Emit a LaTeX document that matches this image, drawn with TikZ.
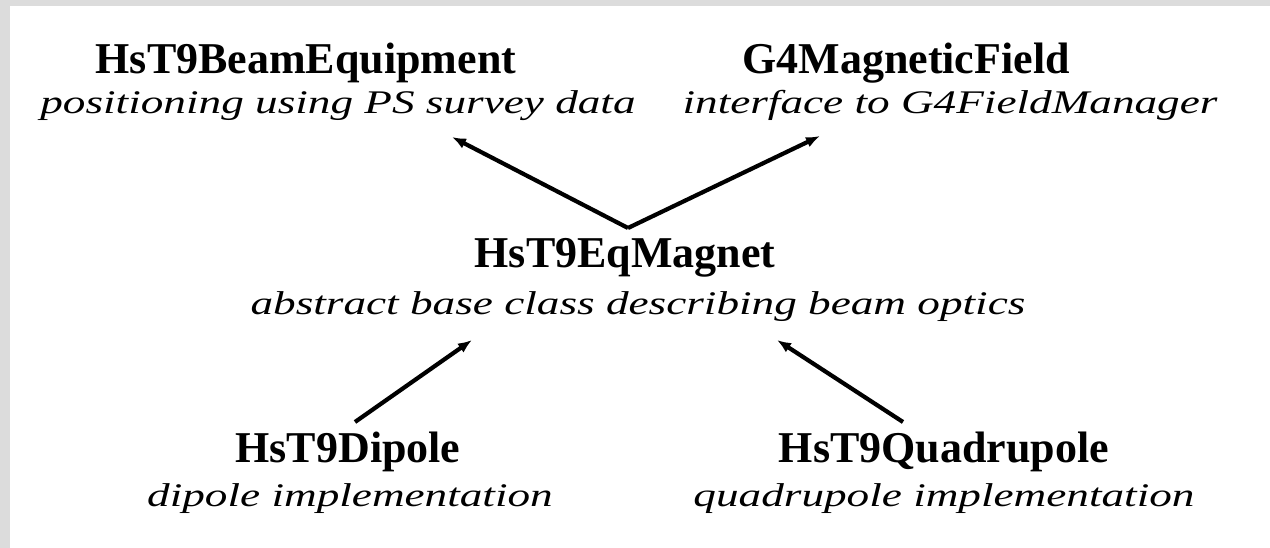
\documentclass[tikz,border=0pt]{standalone}
\usepackage{fontspec}
\setmainfont{Liberation Serif}
\usetikzlibrary{arrows.meta}
\definecolor{bordgray}{HTML}{DCDCDC}
\newcommand\subtxt[1]{\scalebox{1.37}[1]{\fontsize{33}{33}\selectfont\itshape #1}}
\begin{document}
\begin{tikzpicture}[x=1pt,y=-1pt,
  title/.style={anchor=base,inner sep=0pt,font=\fontsize{44}{44}\selectfont\bfseries},
  sub/.style={anchor=base,inner sep=0pt},
  arr/.style={line width=4.2pt,-{Latex[length=14pt,width=11pt]}}]
\fill[bordgray] (0,0) rectangle (1270,548);
\fill[white] (10,6) rectangle (1270,548);
\useasboundingbox (0,0) rectangle (1270,548);
% texts
\node[title] (beamT) at (306,74) {HsT9BeamEquipment};
\node[sub] (beamS) at (338,114) {\subtxt{positioning using PS survey data}};
\node[title] (fieldT) at (906,74) {G4MagneticField};
\node[sub] (fieldS) at (950,114) {\subtxt{interface to G4FieldManager}};
\node[title] (magT) at (625,268) {HsT9EqMagnet};
\node[sub] (magS) at (638,315) {\subtxt{abstract base class describing beam optics}};
\node[title] (dipT) at (348,462) {HsT9Dipole};
\node[sub] (dipS) at (350,506) {\subtxt{dipole implementation}};
\node[title] (quadT) at (944,462) {HsT9Quadrupole};
\node[sub] (quadS) at (944,506) {\subtxt{quadrupole implementation}};
% connector ends
\coordinate (apex) at (628,228);
\coordinate (beamTip) at (452,137);
\coordinate (fieldTip) at (820,136);
\coordinate (dipTail) at (355,422);
\coordinate (dipTip) at (472,340);
\coordinate (quadTail) at (903,422);
\coordinate (quadTip) at (777,340);
% connectors
\draw[arr] (apex) -- (beamTip);
\draw[arr] (apex) -- (fieldTip);
\draw[arr] (dipTail) -- (dipTip);
\draw[arr] (quadTail) -- (quadTip);
\end{tikzpicture}
\end{document}
